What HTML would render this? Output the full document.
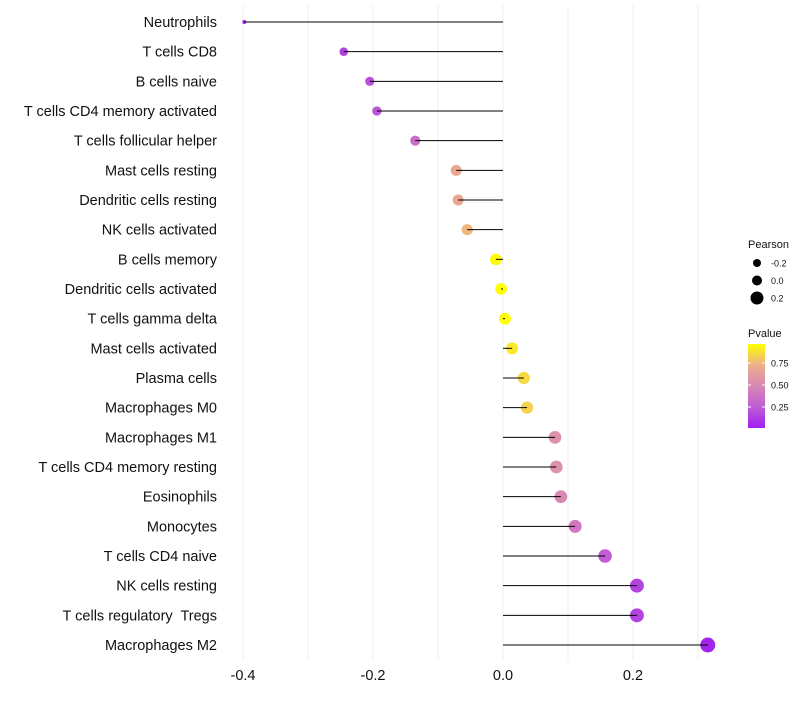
<!DOCTYPE html>
<html><head><meta charset="utf-8"><style>
body{margin:0;background:#fff;font-family:"Liberation Sans",sans-serif}
text{white-space:pre}
</style></head><body>
<svg id="chart" width="800" height="700" xmlns="http://www.w3.org/2000/svg">
<defs><linearGradient id="pg" x1="0" y1="1" x2="0" y2="0">
<stop offset="0" stop-color="#A020F0"/><stop offset="0.25" stop-color="#BF5CD6"/><stop offset="0.5" stop-color="#D888B4"/><stop offset="0.75" stop-color="#EDAF8A"/><stop offset="1" stop-color="#FFFF00"/></linearGradient></defs>
<g id="grid"></g><g id="marks"></g><g id="ylabels"></g><g id="xlabels"></g><g id="legend"></g>
</svg>
<script>
const categories=["Neutrophils","T cells CD8","B cells naive","T cells CD4 memory activated","T cells follicular helper","Mast cells resting","Dendritic cells resting","NK cells activated","B cells memory","Dendritic cells activated","T cells gamma delta","Mast cells activated","Plasma cells","Macrophages M0","Macrophages M1","T cells CD4 memory resting","Eosinophils","Monocytes","T cells CD4 naive","NK cells resting","T cells regulatory  Tregs","Macrophages M2"];
const pearson=[-0.398,-0.245,-0.205,-0.194,-0.135,-0.072,-0.069,-0.055,-0.011,-0.003,0.003,0.014,0.032,0.037,0.080,0.082,0.089,0.111,0.157,0.206,0.206,0.315];
const pvalue=[0.02,0.15,0.2,0.22,0.35,0.68,0.68,0.75,0.95,0.98,0.99,0.9,0.85,0.83,0.55,0.55,0.5,0.4,0.25,0.15,0.15,0.03];
const xTicks=[-0.4,-0.2,0.0,0.2];
const xGrid=[-0.4,-0.3,-0.2,-0.1,0,0.1,0.2,0.3];
const NS="http://www.w3.org/2000/svg";
const xs=v=>503+v*650;
const ys=i=>22+i*29.667;
const rs=v=>v<-0.35?2:Math.sqrt(Math.max(0,8+67.4*(v+0.4)));
const pmin=0.011,pmax=0.966;
const stops=[[160,32,240],[191,92,214],[216,136,180],[237,175,138],[255,255,0]];
function col(p){let t=Math.max(0,Math.min(1,(p-pmin)/(pmax-pmin)))*4;
 const k=Math.min(3,Math.floor(t)),f=t-k,a=stops[k],b=stops[k+1];
 return `rgb(${a.map((c,j)=>Math.round(c+(b[j]-c)*f)).join(',')})`;}
function mk(tag,attrs,parent){const e=document.createElementNS(NS,tag);for(const k in attrs)e.setAttribute(k,attrs[k]);document.getElementById(parent).appendChild(e);return e;}
xGrid.forEach(v=>{const l=mk('line',{x1:xs(v),x2:xs(v),y1:5,y2:660,stroke:'#efefef','stroke-width':1},'grid');

});
categories.forEach((c,i)=>{
 const y=ys(i);
 const cir=mk('circle',{cx:xs(pearson[i]),cy:y,r:rs(pearson[i]),fill:col(pvalue[i])},'marks');
 
 
 const ln=mk('line',{x1:xs(0),x2:xs(pearson[i]),y1:y,y2:y,stroke:'#000','stroke-width':1},'marks');
 
 
 const t=mk('text',{x:217,y:y+5,'text-anchor':'end','font-size':14.5,fill:'#111'},'ylabels');
 t.textContent=c;
 
 
});
xTicks.forEach(v=>{const t=mk('text',{x:xs(v),y:680,'text-anchor':'middle','font-size':14.5,fill:'#111'},'xlabels');
 t.textContent=v.toFixed(1);
 
 });
let t=mk('text',{x:748,y:248,'font-size':11,fill:'#111'},'legend');t.textContent='Pearson';


const sizeVals=[-0.2,0.0,0.2];
const legR=[4,5,6.5];
sizeVals.forEach((v,k)=>{const y=263+k*17.5;
 const c=mk('circle',{cx:757,cy:y,r:legR[k],fill:'#000'},'legend');
 
 
 const tt=mk('text',{x:771,y:y+3.5,'font-size':9,fill:'#111'},'legend');tt.textContent=v.toFixed(1);
 
 });
t=mk('text',{x:748,y:337,'font-size':11,fill:'#111'},'legend');t.textContent='Pvalue';


const bar=mk('rect',{x:748,y:344,width:17,height:84,fill:'url(#pg)'},'legend');


const cTicks=[0.25,0.5,0.75];
cTicks.forEach(p=>{const y=385-(p-0.5)*88;
 mk('line',{x1:748,x2:751,y1:y,y2:y,stroke:'#fff'},'legend');
 mk('line',{x1:762,x2:765,y1:y,y2:y,stroke:'#fff'},'legend');
 const tt=mk('text',{x:771,y:y+3.5,'font-size':9,fill:'#111'},'legend');tt.textContent=p.toFixed(2);
 
 });
</script>
</body></html>
